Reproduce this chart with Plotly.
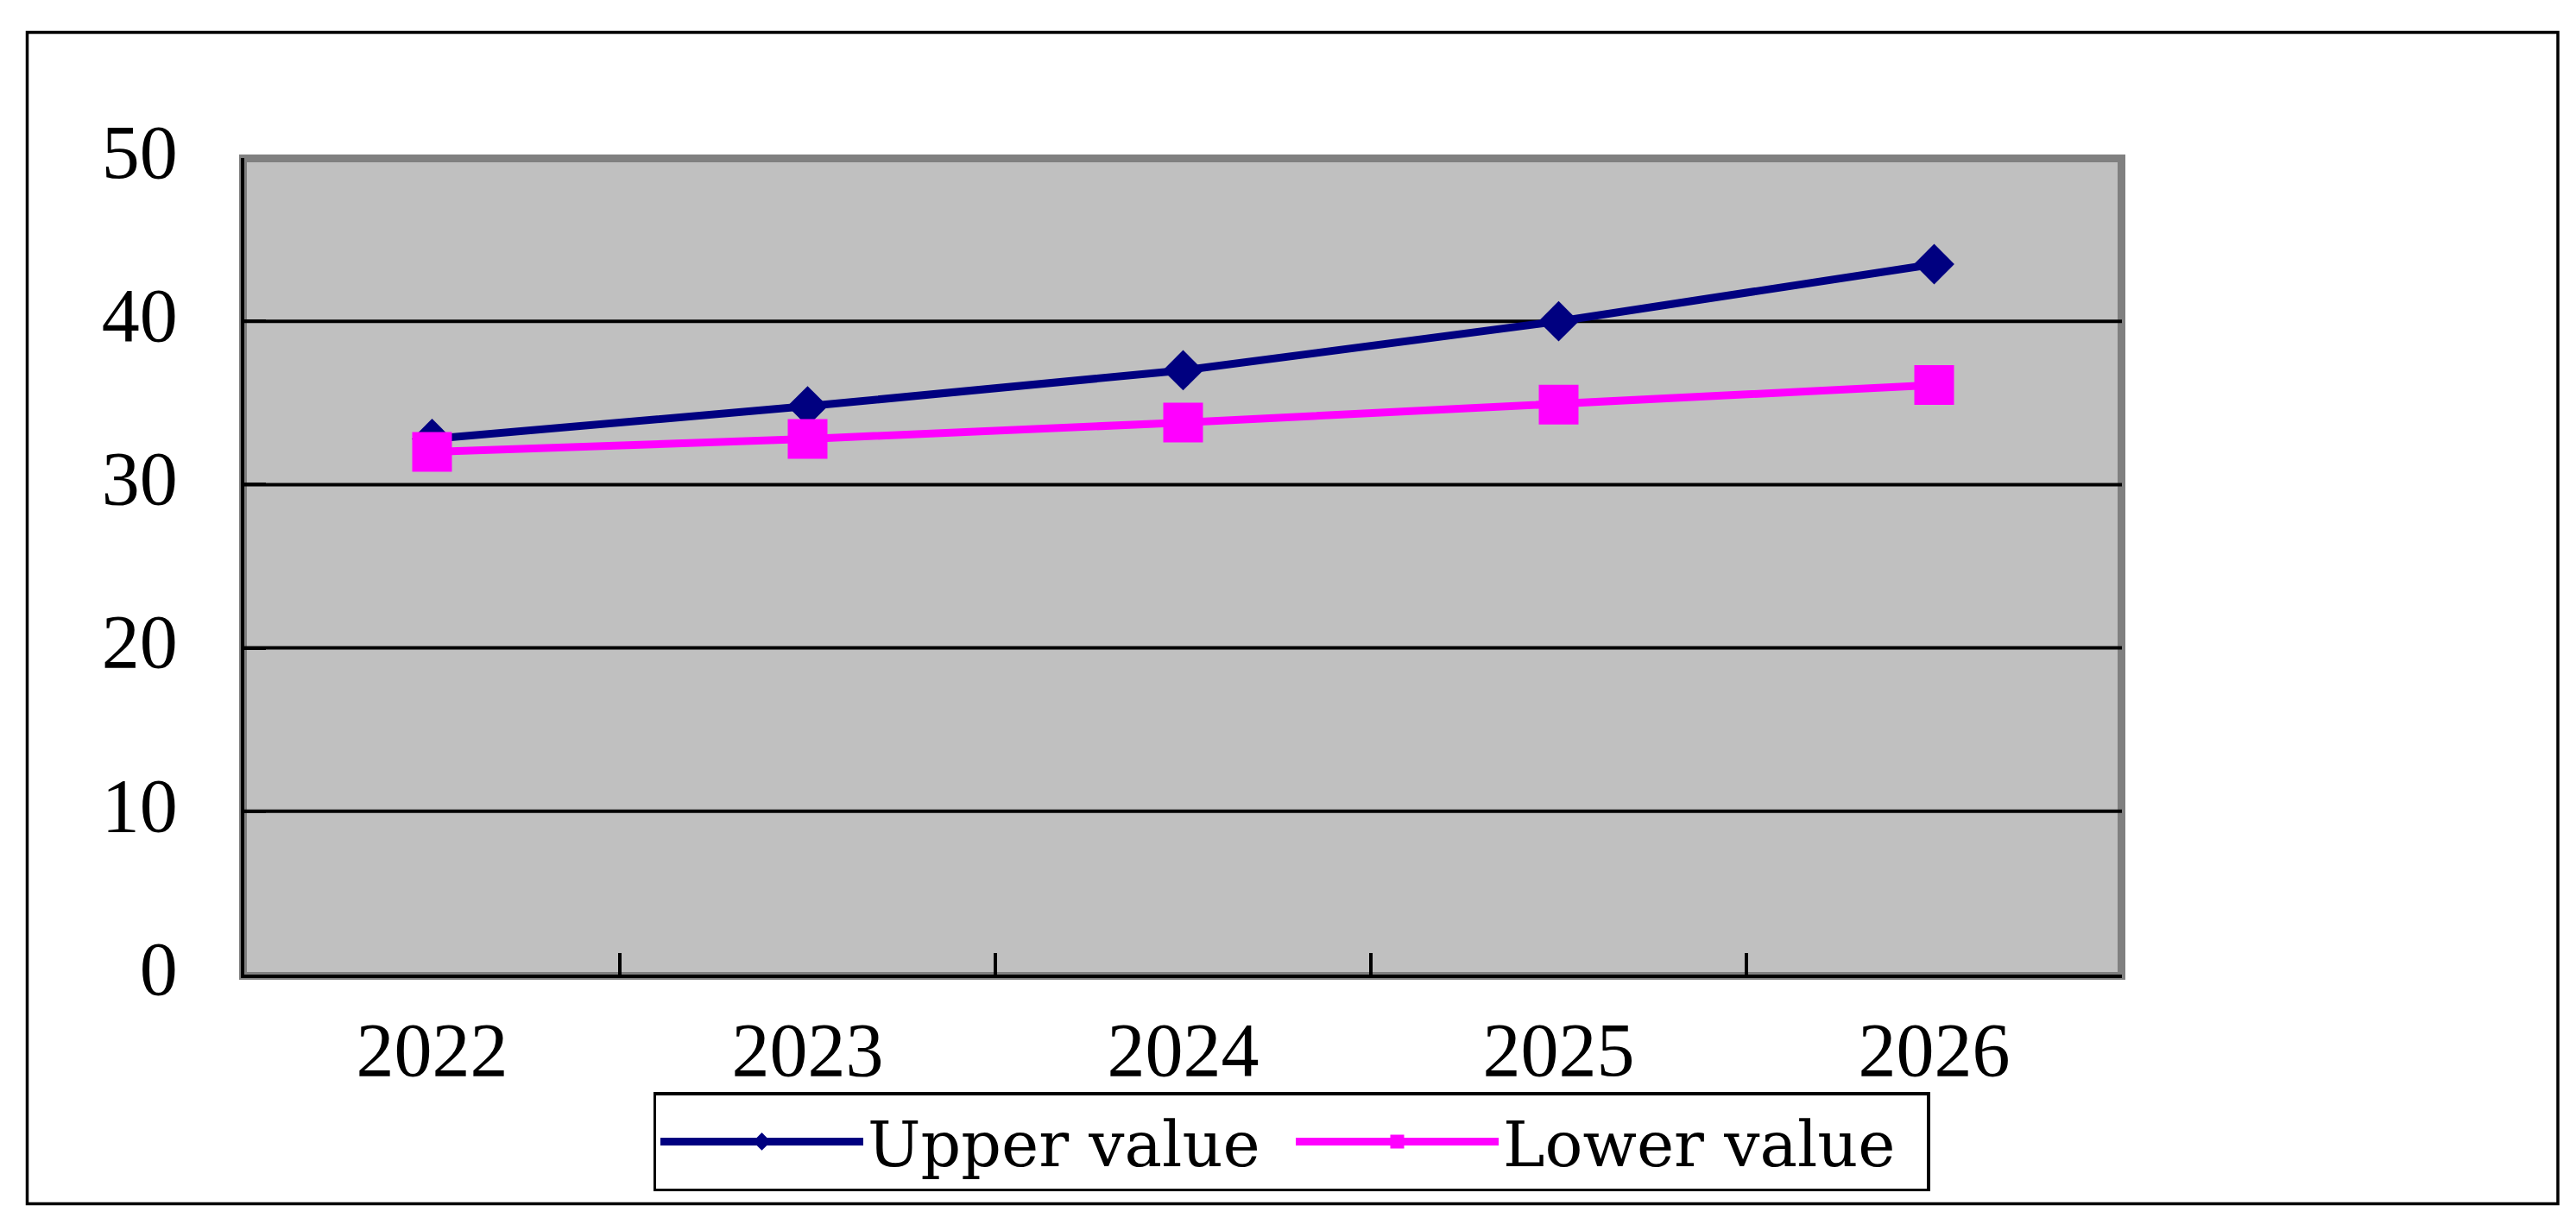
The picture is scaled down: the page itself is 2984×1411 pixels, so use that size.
import plotly.graph_objects as go

# ---- data ----
years = ["2022", "2023", "2024", "2025", "2026"]
upper_value = [32.8, 34.8, 37.0, 40.0, 43.5]
lower_value = [32.0, 32.8, 33.8, 34.9, 36.1]
y_tick_vals = [0, 10, 20, 30, 40, 50]
grid_vals = [10, 20, 30, 40]

# ---- layout geometry (pixels) ----
W, H = 2984, 1411
PL, PR, PT, PB = 275, 2450, 175, 1121        # plot area edges
OL, OR, OT, OB = 23.5, 2955, 29.5, 1386.5    # outer frame
pw, ph = PR - PL, PB - PT

def px_to_paper_x(px):
    return (px - PL) / pw

def px_to_paper_y(py):
    return (PB - py) / ph

fig = go.Figure()
fig.add_trace(go.Scatter(
    x=years, y=upper_value, name="Upper value", mode="lines+markers",
    line=dict(color="#000080", width=9),
    marker=dict(symbol="diamond", size=36, color="#000080"),
))
fig.add_trace(go.Scatter(
    x=years, y=lower_value, name="Lower value", mode="lines+markers",
    line=dict(color="#FF00FF", width=9),
    marker=dict(symbol="square", size=46, color="#FF00FF"),
))

shapes = []
# plot-area fill with gray border band centred on the plot edges
shapes.append(dict(type="rect", xref="paper", yref="paper",
                   x0=px_to_paper_x(273.5), x1=px_to_paper_x(2449.5),
                   y0=px_to_paper_y(1122.5), y1=px_to_paper_y(175.5),
                   fillcolor="#C0C0C0", line=dict(color="#808080", width=9), layer="below"))
# horizontal gridlines
for v in grid_vals:
    shapes.append(dict(type="line", xref="x domain", yref="y", x0=0, x1=1, y0=v, y1=v,
                       line=dict(color="black", width=4), layer="below"))
# outer chart frame
shapes.append(dict(type="rect", xref="paper", yref="paper",
                   x0=px_to_paper_x(OL), x1=px_to_paper_x(OR),
                   y0=px_to_paper_y(OB), y1=px_to_paper_y(OT),
                   line=dict(color="black", width=3.5), fillcolor="rgba(0,0,0,0)", layer="below"))

tick_font = dict(family="Liberation Serif, Times New Roman, serif", size=88, color="black")

fig.update_layout(
    width=W, height=H,
    margin=dict(l=PL, r=W - PR, t=PT, b=H - PB, autoexpand=False),
    paper_bgcolor="white",
    plot_bgcolor="rgba(0,0,0,0)",
    shapes=shapes,
    showlegend=True,
    legend=dict(
        orientation="h",
        x=px_to_paper_x(1488), xanchor="center",
        y=px_to_paper_y(1257), yanchor="top",
        bgcolor="white", bordercolor="black", borderwidth=3.5,
        font=dict(family="DejaVu Serif, Liberation Serif, serif", size=73, color="black"),
        itemwidth=235,
        entrywidth=486, entrywidthmode="pixels",
        itemsizing="trace",
    ),
    xaxis=dict(
        type="category", range=[-0.5, 4.5], tickson="boundaries",
        ticks="inside", ticklen=25, tickwidth=3.5, tickcolor="black",
        showline=True, linecolor="black", linewidth=3.5,
        showgrid=False, zeroline=False,
        tickfont=tick_font, ticklabelstandoff=8,
    ),
    yaxis=dict(
        range=[0, 50], tickvals=y_tick_vals,
        ticks="inside", ticklen=25, tickwidth=3.5, tickcolor="black",
        showline=True, linecolor="black", linewidth=3.5,
        showgrid=False, zeroline=False,
        tickfont=tick_font, ticklabelstandoff=56, ticklabelshift=-8,
    ),
)

fig.write_html("out.html")
